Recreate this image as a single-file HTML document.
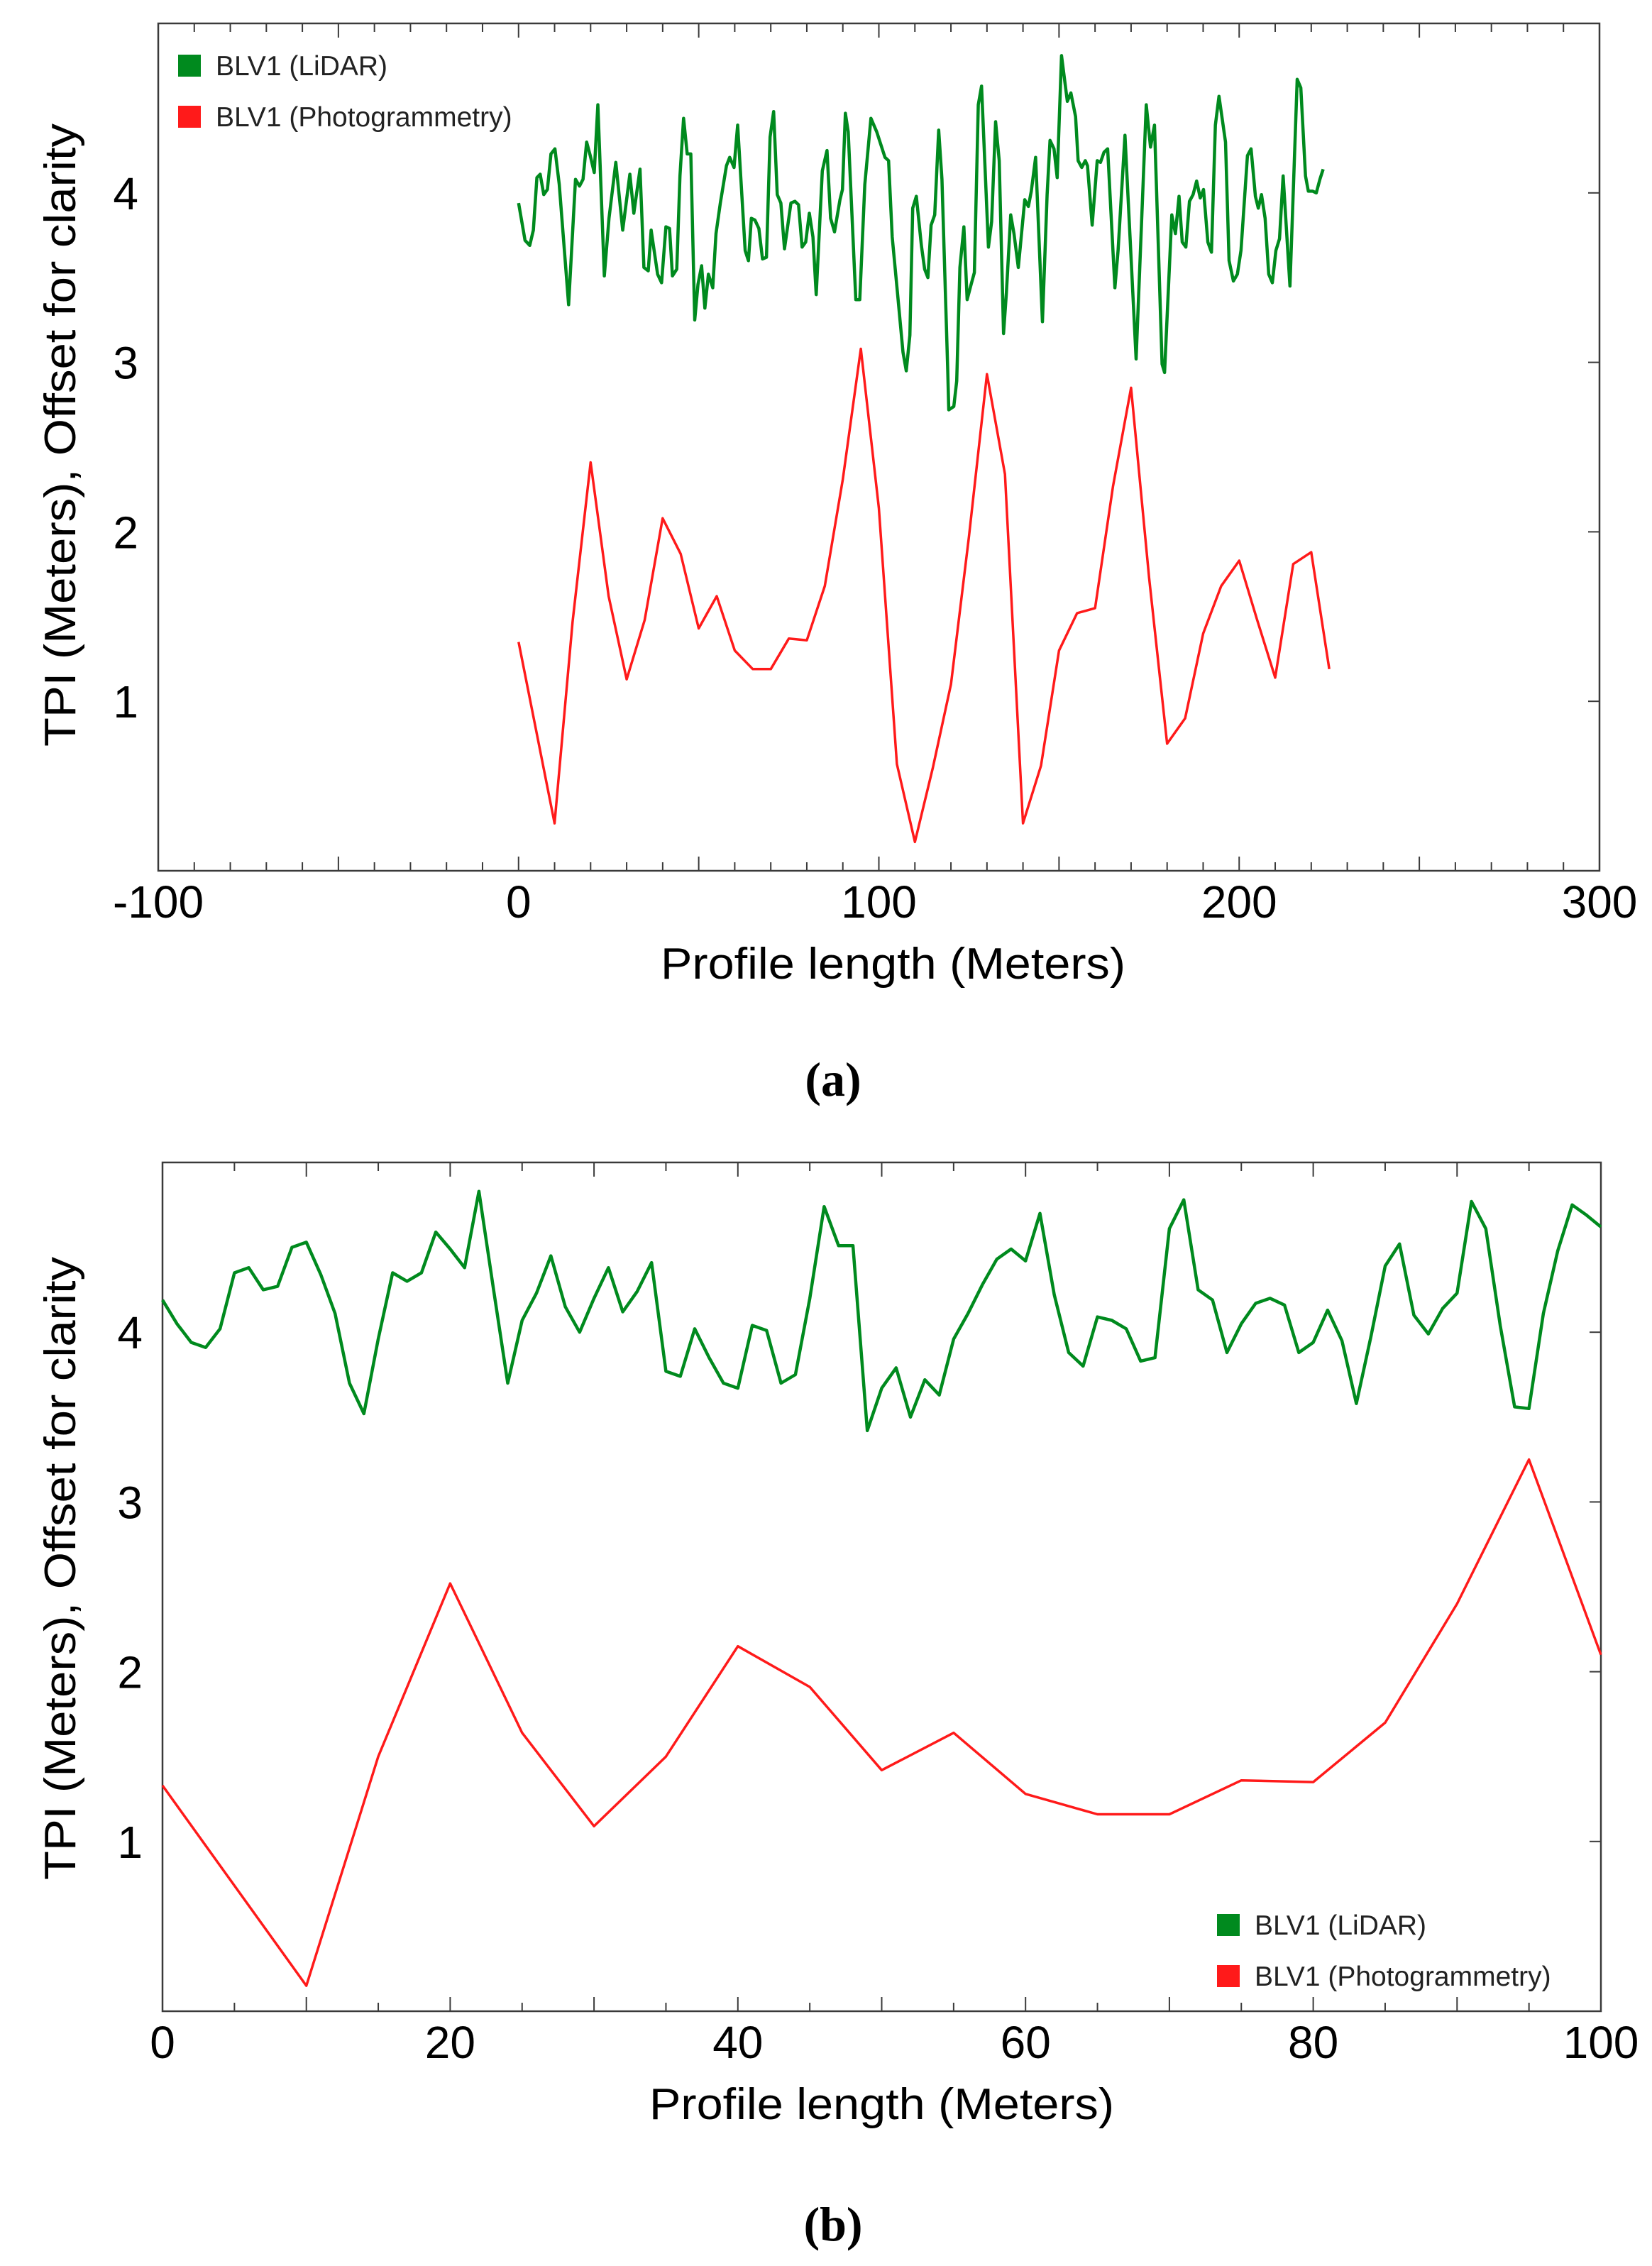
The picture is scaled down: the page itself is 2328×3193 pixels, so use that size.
<!DOCTYPE html>
<html><head><meta charset="utf-8"><style>
html,body{margin:0;padding:0;background:#fff;}
svg{display:block;}
text{font-family:"Liberation Sans",Arial,sans-serif;}
</style></head><body>
<svg id="fig" xmlns="http://www.w3.org/2000/svg" width="2328" height="3193" viewBox="0 0 2328 3193">
<g id="chartA"></g>
<g id="chartB"></g>
<text x="1174" y="1544" text-anchor="middle" font-size="68" font-weight="bold" style="font-family:'Liberation Serif',serif">(a)</text>
<text x="1174" y="3157" text-anchor="middle" font-size="68" font-weight="bold" style="font-family:'Liberation Serif',serif">(b)</text>
</svg>
<script>
// ---- Chart A data ----
const aGreenX = [0,1.8,3.1,4.1,5.1,6,7,8,9,10.1,11.3,13.9,15.8,16.9,17.9,18.9,19.9,21,22,23.8,25.1,27,28.9,30.9,32,33.7,34.8,36,36.8,38.6,39.7,40.9,41.9,42.7,43.9,44.8,45.8,46.8,47.8,48.9,49.8,50.8,51.7,52.7,53.9,54.8,56,57.7,58.6,59.8,60.8,62.9,63.8,64.6,65.6,66.7,67.7,68.8,69.8,70.8,71.8,72.8,73.8,75.6,76.7,77.7,
78.7,79.7,80.7,81.7,82.6,84.3,85.6,86.6,87.7,89.2,89.9,90.7,91.5,93.6,94.7,96.1,97.8,99.4,101.7,102.7,103.7,105.3,106.7,107.6,108.6,109.4,110.4,111.8,112.7,113.6,114.5,115.5,116.6,117.5,119.1,119.4,120.8,121.6,122.5,123.6,124.5,125.6,126.5,127.6,128.5,130.4,131.3,132.4,133.4,134.6,135.4,136.6,137.5,138.7,140.5,141.5,142.3,143.5,145.4,146.7,147.5,148.6,149.5,150.7,152.3,153.3,154.6,
155.3,156.3,157.3,157.9,159.2,160.6,161.5,162.5,163.5,165.5,166.4,168.3,171.4,174.2,175.4,176.5,178.6,179.3,181.3,182.3,183.3,184.2,185.2,186.2,187.2,188.2,189.2,190.1,191.3,192.3,193.4,194.4,196.2,197.2,198.4,199.5,200.5,202.3,203.3,204.5,205.3,206.2,207.2,208.2,209.2,210.2,211.2,212.2,214.1,216.1,217.1,218.4,219.2,220.4,221.4,222.4,223.3];
const aGreenY = [3.94,3.72,3.69,3.78,4.09,4.11,3.99,4.02,4.23,4.26,4.05,3.34,4.08,4.04,4.08,4.30,4.22,4.12,4.52,3.51,3.85,4.18,3.78,4.11,3.88,4.14,3.56,3.54,3.78,3.52,3.47,3.80,3.79,3.51,3.55,4.10,4.44,4.23,4.23,3.25,3.46,3.57,3.32,3.52,3.44,3.76,3.94,4.16,4.21,4.15,4.40,3.66,3.60,3.85,3.84,3.79,3.61,3.62,4.33,4.48,3.99,3.94,3.67,3.94,3.95,3.93,
3.68,3.71,3.88,3.74,3.40,4.13,4.25,3.85,3.77,3.96,4.02,4.47,4.36,3.37,3.37,4.05,4.44,4.36,4.21,4.19,3.74,3.38,3.06,2.95,3.16,3.91,3.98,3.69,3.55,3.50,3.81,3.87,4.37,4.08,2.96,2.72,2.74,2.89,3.56,3.80,3.37,3.46,3.53,4.52,4.63,3.68,3.83,4.42,4.19,3.17,3.41,3.87,3.76,3.56,3.96,3.92,4.01,4.21,3.24,3.99,4.31,4.26,4.09,4.81,4.54,4.59,4.45,
4.19,4.15,4.19,4.16,3.81,4.19,4.18,4.24,4.26,3.44,3.66,4.34,3.02,4.52,4.27,4.40,2.99,2.94,3.87,3.76,3.98,3.71,3.68,3.95,3.99,4.07,3.97,4.02,3.71,3.65,4.40,4.57,4.30,3.60,3.48,3.52,3.66,4.22,4.26,3.98,3.91,3.99,3.85,3.52,3.47,3.66,3.73,4.10,3.45,4.67,4.62,4.10,4.01,4.01,4.00,4.08,4.14];
const aRedX = [0,10,15,20,25,30,35,40,45,50,55,60,65,70,75,80,85,90,95,100,105,110,115,120,125,130,135,140,145,150,155,160,165,170,175,180,185,190,195,200,205,210,215,220,225];
const aRedY = [1.35,0.28,1.47,2.41,1.62,1.13,1.48,2.08,1.87,1.43,1.62,1.30,1.19,1.19,1.37,1.36,1.68,2.31,3.08,2.14,0.63,0.17,0.61,1.10,1.97,2.93,2.34,0.28,0.62,1.30,1.52,1.55,2.27,2.85,1.73,0.75,0.90,1.40,1.68,1.83,1.48,1.14,1.81,1.88,1.19];
const aXTicks = [-100,0,100,200,300];
const aYTicks = [1,2,3,4];
// ---- Chart B data ----
const bGreenY = [4.19,4.05,3.94,3.91,4.02,4.35,4.38,4.25,4.27,4.50,4.53,4.34,4.11,3.70,3.52,3.96,4.35,4.30,4.35,4.59,4.49,4.38,4.83,4.26,3.70,4.07,4.23,4.45,4.15,4.00,4.20,4.38,4.12,4.24,4.41,3.77,3.74,4.02,3.85,3.70,3.67,4.04,4.01,3.70,3.75,4.20,4.74,4.51,4.51,3.42,3.67,3.79,3.50,3.72,3.63,3.96,4.11,4.28,4.43,4.49,4.42,4.70,4.22,3.88,3.80,4.09,4.07,4.02,3.83,3.85,4.61,4.78,4.25,4.19,3.88,4.05,4.17,4.20,4.16,3.88,3.94,4.13,3.95,3.58,3.97,4.39,4.52,4.10,3.99,4.14,4.23,4.77,4.61,4.04,3.56,3.55,4.11,4.48,4.75,4.69,4.62];
const bRedX = [0,10,15,20,25,30,35,40,45,50,55,60,65,70,75,80,85,90,95,100];
const bRedY = [1.33,0.15,1.50,2.52,1.64,1.09,1.50,2.15,1.91,1.42,1.64,1.28,1.16,1.16,1.36,1.35,1.70,2.40,3.25,2.10];
const bXTicks = [0,20,40,60,80,100];
const bYTicks = [1,2,3,4];

const NS = "http://www.w3.org/2000/svg";
function mk(parent, tag, attrs, txt){
  const e = document.createElementNS(NS, tag);
  for (const k in attrs) e.setAttribute(k, attrs[k]);
  if (txt !== undefined) e.textContent = txt;
  parent.appendChild(e);
  return e;
}

function drawChart(g, cfg){
  const sx = v => cfg.L + (v - cfg.x0) / (cfg.x1 - cfg.x0) * (cfg.R - cfg.L);
  const sy = v => cfg.B - (v - cfg.y0) / (cfg.y1 - cfg.y0) * (cfg.B - cfg.T);
  const frame = mk(g, 'rect', {x:cfg.L, y:cfg.T, width:cfg.R-cfg.L, height:cfg.B-cfg.T, fill:'none', stroke:'#3a3a3a', 'stroke-width':2.5});
  
  
  for (let v = cfg.x0; v <= cfg.x1 + 1e-9; v += cfg.minor){
    const x = sx(v);
    const major = Math.abs(v / cfg.majorStep - Math.round(v / cfg.majorStep)) < 1e-6;
    const len = major ? 20 : 12;
    const t1 = mk(g, 'line', {x1:x, x2:x, y1:cfg.B, y2:cfg.B-len, stroke:'#3a3a3a', 'stroke-width':2});
    
    
    const t2 = mk(g, 'line', {x1:x, x2:x, y1:cfg.T, y2:cfg.T+len, stroke:'#3a3a3a', 'stroke-width':2});
    
    
  }
  cfg.xt.forEach(v => {
    const t = mk(g, 'text', {x:sx(v), y:cfg.B+66, 'text-anchor':'middle', 'font-size':64, fill:'#000'}, String(v));
    
    
  });
  cfg.yt.forEach(v => {
    const y = sy(v);
    const tk = mk(g, 'line', {x1:cfg.R, x2:cfg.R-16, y1:y, y2:y, stroke:'#3a3a3a', 'stroke-width':2});
    
    
    const t = mk(g, 'text', {x:cfg.L-28, y:y+23, 'text-anchor':'end', 'font-size':64, fill:'#000'}, String(v));
    
    
  });
  const xt = mk(g, 'text', {x:(cfg.L+cfg.R)/2 + cfg.xTitleDx, y:cfg.B+152, 'text-anchor':'middle', 'font-size':62, textLength:655, lengthAdjust:'spacingAndGlyphs', fill:'#000'}, 'Profile length (Meters)');
  
  
  const yt = mk(g, 'text', {x:0, y:0, 'text-anchor':'middle', 'font-size':62, textLength:878, lengthAdjust:'spacingAndGlyphs', fill:'#000', transform:'translate(106,'+cfg.yTitleY+') rotate(-90)'}, 'TPI (Meters), Offset for clarity');
  
  
  const gp = cfg.gx.map((x,i) => sx(x).toFixed(1)+','+sy(cfg.gy[i]).toFixed(1)).join(' ');
  const gl = mk(g, 'polyline', {points:gp, fill:'none', stroke:'#008a1e', 'stroke-width':4.5, 'stroke-linejoin':'round'});
  
  
  const rp = cfg.rx.map((x,i) => sx(x).toFixed(1)+','+sy(cfg.ry[i]).toFixed(1)).join(' ');
  const rl = mk(g, 'polyline', {points:rp, fill:'none', stroke:'#ff1a1a', 'stroke-width':3.5, 'stroke-linejoin':'round'});
  
  
  const lg = mk(g, 'g', {});
  
  
  const e1 = mk(lg, 'rect', {x:cfg.lx, y:cfg.ly, width:32, height:31, fill:'#008a1e'});
  
  
  const t1 = mk(lg, 'text', {x:cfg.lx+53, y:cfg.ly+29, 'font-size':39, fill:'#222'}, 'BLV1 (LiDAR)');
  
  
  const e2 = mk(lg, 'rect', {x:cfg.lx, y:cfg.ly+72, width:32, height:31, fill:'#ff1a1a'});
  
  
  const t2 = mk(lg, 'text', {x:cfg.lx+53, y:cfg.ly+101, 'font-size':39, fill:'#222'}, 'BLV1 (Photogrammetry)');
  
  
}

drawChart(document.getElementById('chartA'), {
  L:223, R:2254, T:33, B:1227, x0:-100, x1:300, y0:0, y1:5, minor:10, majorStep:50,
  xt:aXTicks, yt:aYTicks, gx:aGreenX, gy:aGreenY, rx:aRedX, ry:aRedY,
  lx:251, ly:77, yTitleY:613, xTitleDx:20
});
drawChart(document.getElementById('chartB'), {
  L:229, R:2256, T:1638, B:2834, x0:0, x1:100, y0:0, y1:5, minor:5, majorStep:10,
  xt:bXTicks, yt:bYTicks, gx:bGreenY.map((v,i)=>i), gy:bGreenY, rx:bRedX, ry:bRedY,
  lx:1715, ly:2697, yTitleY:2210, xTitleDx:0
});
</script>
</body></html>
